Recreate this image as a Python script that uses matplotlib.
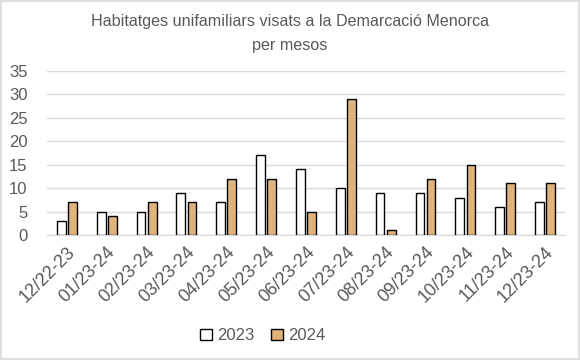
import matplotlib
matplotlib.use("Agg")
import matplotlib.pyplot as plt
import numpy as np

categories = ["12/22-23", "01/23-24", "02/23-24", "03/23-24", "04/23-24", "05/23-24",
              "06/23-24", "07/23-24", "08/23-24", "09/23-24", "10/23-24", "11/23-24", "12/23-24"]
v2023 = [3, 5, 5, 9, 7, 17, 14, 10, 9, 9, 8, 6, 7]
v2024 = [7, 4, 7, 7, 12, 12, 5, 29, 1, 12, 15, 11, 11]
yticks = [0, 5, 10, 15, 20, 25, 30, 35]

plt.rcParams['font.family'] = ['Liberation Sans', 'DejaVu Sans']
txt = '#595959'

fig = plt.figure(figsize=(5.8, 3.6), dpi=100)
fig.patches.append(plt.Rectangle((0.002, 0.003), 0.996, 0.994, transform=fig.transFigure,
                                 fill=False, edgecolor='#d9d9d9', linewidth=1.2))
ax = fig.add_axes([0.081, 0.347, 0.893, 0.456])
x = np.arange(len(categories))
w = 0.22
ax.bar(x - 0.14, v2023, w, color='white', edgecolor='black', linewidth=1.0, label='2023', zorder=3)
ax.bar(x + 0.14, v2024, w, color='#dfb47c', edgecolor='black', linewidth=1.0, label='2024', zorder=3)
ax.set_xlim(-0.5, len(categories) - 0.5)
ax.set_ylim(0, 35)
ax.set_yticks(yticks)
ax.yaxis.grid(True, color='#d9d9d9', linewidth=1, zorder=0)
for s in ['top', 'right', 'left']:
    ax.spines[s].set_visible(False)
ax.spines['bottom'].set_color('#d9d9d9')
ax.tick_params(axis='both', length=0, colors=txt, labelsize=12)
ax.tick_params(axis='y', pad=14)
ax.tick_params(axis='x', pad=6, labelsize=13)
ax.set_xticks(x)
ax.set_xticklabels(categories, rotation=45, ha='right', rotation_mode='anchor')
fig.text(0.5, 0.907, "Habitatges unifamiliars visats a la Demarcació Menorca\nper mesos",
         ha='center', va='center', fontsize=11.6, color=txt, linespacing=1.75)
leg = fig.legend(loc='center', bbox_to_anchor=(0.453, 0.067), ncol=2, frameon=False,
                 fontsize=12, handlelength=0.7, handleheight=0.7, handletextpad=0.3,
                 columnspacing=1.0)
for t in leg.get_texts():
    t.set_color(txt)
fig.savefig("out.png", dpi=100)
